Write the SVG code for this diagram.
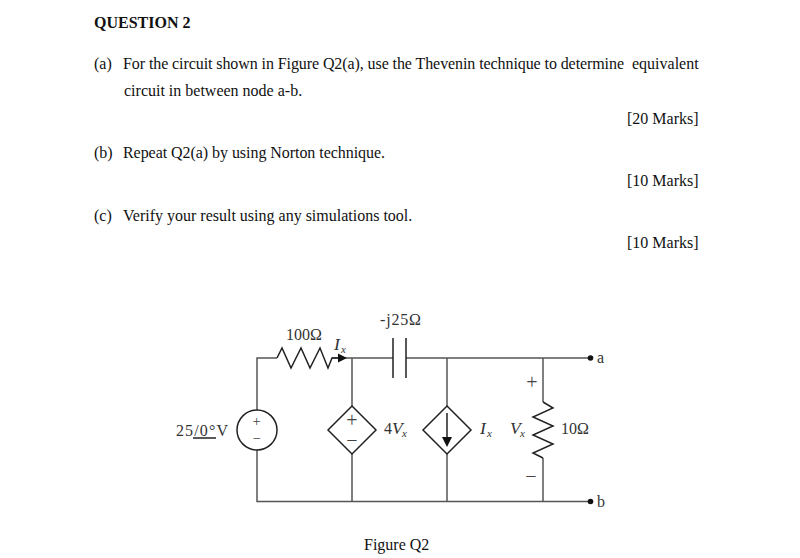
<svg xmlns="http://www.w3.org/2000/svg" width="800" height="558" viewBox="0 0 800 558">
<style>
text{font-family:"Liberation Serif","Times New Roman",serif;fill:#111;font-size:16px}
.b{font-weight:bold}
.c{font-size:16px;fill:#333}
.i{font-style:italic;font-size:17.500px;fill:#333}
.s{font-size:11px;font-style:italic;fill:#333}
.w{fill:none;stroke:#555;stroke-width:1.5}
.e{fill:none;stroke:#222;stroke-width:1.5}
.p{font-size:20px;fill:#444}
.q{font-size:14.500px;fill:#444}
</style>
<rect width="800" height="558" fill="#fff"/>
<g id="question-text">
<text x="94" y="28" class="b">QUESTION 2</text>
<text x="94" y="69">(a)</text>
<text x="123" y="69" textLength="501">For the circuit shown in Figure Q2(a), use the Thevenin technique to determine</text>
<text x="632" y="69">equivalent</text>
<text x="124" y="96">circuit in between node a-b.</text>
<text x="627" y="124">[20 Marks]</text>
<text x="94" y="158">(b)</text>
<text x="123" y="158" textLength="262">Repeat Q2(a) by using Norton technique.</text>
<text x="627" y="186">[10 Marks]</text>
<text x="94" y="221">(c)</text>
<text x="123" y="221">Verify your result using any simulations tool.</text>
<text x="627" y="248">[10 Marks]</text>
<text x="364" y="550">Figure Q2</text>
</g>
<g id="connectors">
<path class="w" d="M257 410V358H277M332 358H393M406 358H590M257 450V501.500H590M352 358V406M352 454V501.500M447 358V406M447 454V501.500M543 358V402M543 458V501.500"/>
</g>
<g id="R1">
<path class="e" d="M277 358L282 348L291 368L301 348L310 368L320 348L328 368L332 358L339 358"/>
<path d="M347 358L338 353.500V362.500Z" fill="#111"/>
<text x="286" y="340" class="c">100Ω</text>
<text x="334" y="350" class="i">I</text><text x="341" y="353" class="s">x</text>
</g>
<g id="C1">
<path class="e" d="M393 338V378M406 338V378"/>
<text x="380" y="325" class="c" textLength="41">-j25Ω</text>
</g>
<g id="V1">
<circle cx="257" cy="430" r="20" class="e"/>
<text x="256.500" y="426" text-anchor="middle" class="q">+</text>
<text x="256.500" y="443" text-anchor="middle" class="q">−</text>
<text x="176" y="436" class="c" textLength="52">25/0°V</text>
<path d="M193 438H216" class="e" stroke-width="1"/>
</g>
<g id="D1">
<path class="e" d="M352 406L376 430L352 454L328 430Z"/>
<text x="352" y="427" text-anchor="middle" class="p">+</text>
<text x="352" y="447" text-anchor="middle" class="p">−</text>
<text x="384" y="434" class="c">4</text><text x="392" y="434" class="i">V</text><text x="402" y="437" class="s">x</text>
</g>
<g id="D2">
<path class="e" d="M447 406L471 430L447 454L423 430Z"/>
<path class="e" d="M447 413V440"/>
<path d="M447 447L442 437H452Z" fill="#111"/>
<text x="480" y="434" class="i">I</text><text x="487" y="437" class="s">x</text>
</g>
<g id="R2">
<path class="e" d="M543 402L553 408L533 417L553 426L533 435L553 444L533 453L543 458"/>
<text x="532" y="389" text-anchor="middle" class="p">+</text>
<text x="531" y="483" text-anchor="middle" class="p">−</text>
<text x="510" y="434" class="i">V</text><text x="520" y="437" class="s">x</text>
<text x="561" y="434" class="c">10Ω</text>
</g>
<g id="terminal-a"><circle cx="590.500" cy="358" r="2.800" fill="#111"/><text x="597" y="363" class="c">a</text></g>
<g id="terminal-b"><circle cx="590.500" cy="501.500" r="2.800" fill="#111"/><text x="597" y="507" class="c">b</text></g>
</svg>
